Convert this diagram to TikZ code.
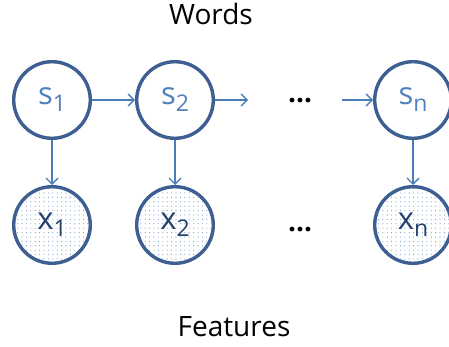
\documentclass[tikz,border=0pt]{standalone}
\usepackage{fontspec}
\setmainfont{Open Sans}
\usetikzlibrary{arrows.meta,patterns.meta}
\definecolor{ring}{HTML}{3D5F91}
\definecolor{arr}{HTML}{4A7EBB}
\definecolor{stext}{HTML}{4F81BD}
\definecolor{xtext}{HTML}{233F6B}
\definecolor{dotc}{HTML}{6F93C6}
\newcommand{\lbl}[2]{{\fontsize{31}{31}\selectfont #1}\raisebox{-7pt}{\fontsize{23}{23}\selectfont #2}}
\begin{document}
\begin{tikzpicture}[x=1pt,y=-1pt,
  hid/.style={circle,draw=ring,line width=3.4pt,minimum size=76.6pt,inner sep=0pt,fill=white,text=stext},
  obs/.style={circle,draw=ring,line width=3.4pt,minimum size=76.6pt,inner sep=0pt,
    pattern={Dots[distance=4.4pt,radius=0.55pt]},pattern color=dotc,text=xtext},
  con/.style={draw=arr,line width=1.3pt,-{Straight Barb[length=6pt,width=12pt,line width=1.3pt]}},
  ell/.style={font=\fontsize{28}{28}\selectfont\bfseries,inner sep=0pt}]
\useasboundingbox (0,0) rectangle (449,347);
\node[font=\fontsize{28}{28}\selectfont, anchor=base] (w) at (211,25) {Words};
\node[font=\fontsize{28}{28}\selectfont, anchor=base] (f) at (234,336) {Features};
\node[hid] (s1) at (52,100) {\lbl{s}{1}};
\node[hid] (s2) at (175,100) {\lbl{s}{2}};
\node[hid] (sn) at (413,100) {\lbl{s}{n}};
\node[obs] (x1) at (52,225) {};
\node[obs] (x2) at (175,225) {};
\node[obs] (xn) at (413,225) {};
\node[text=xtext] at (x1) {\lbl{x}{1}};
\node[text=xtext] at (x2) {\lbl{x}{2}};
\node[text=xtext] at (xn) {\lbl{x}{n}};
\node[ell] (d1) at (300,101) {…};
\node[ell] (d2) at (300,230) {…};
\coordinate (c1) at (248,100);
\coordinate (c2) at (342,100);
\draw[con] (s1) -- (s2);
\draw[con] (s2) -- (c1);
\draw[con] (c2) -- (sn);
\draw[con] (s1) -- (x1);
\draw[con] (s2) -- (x2);
\draw[con] (sn) -- (xn);
\end{tikzpicture}
\end{document}
